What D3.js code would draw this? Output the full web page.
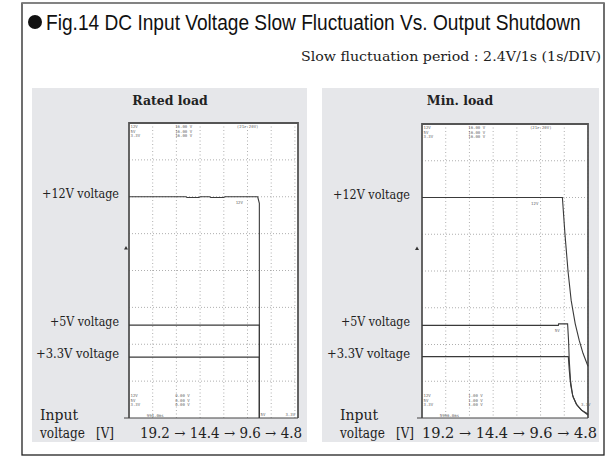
<!DOCTYPE html>
<html><head><meta charset="utf-8">
<script src="https://cdn.jsdelivr.net/npm/d3@7"></script>
<style>
html,body{margin:0;padding:0;background:#fff;}
svg{display:block;}
</style></head>
<body>
<svg id="chart" width="614" height="457"></svg>
<script>
// ---------- data ----------
const titleText = "Fig.14 DC Input Voltage Slow Fluctuation Vs. Output Shutdown";
const subtitleText = "Slow fluctuation period : 2.4V/1s (1s/DIV)";
const panelTitles = ["Rated load", "Min. load"];
const channelLabels = ["+12V voltage", "+5V voltage", "+3.3V voltage"];
const channelNames = ["12V", "5V", "3.3V"];
const inputVoltages = [19.2, 14.4, 9.6, 4.8];
const timeDivs = [0, 1, 2, 3, 4, 5, 6, 7];          // 1 s / DIV
const levelDivs = [0, 1, 2, 3, 4, 5, 6, 7, 8];
const topScaleText = ["16.00 V", "16.00 V", "16.00 V"];
const bottomScaleRated = ["0.00 V", "0.00 V", "0.00 V"];
const bottomScaleMin = ["1.00 V", "1.00 V", "1.00 V"];
const timeReadout = ["994.0ms", "5996.0ms"];
const triggerText = "(21> 20V)";

// traces: [time (s), level (div)]
const ratedV12 = [[0,6.0],[2.4,6.0],[2.45,5.98],[2.95,5.98],[3.0,6.0],[3.4,6.0],[3.45,5.98],[4.0,5.98],[4.05,6.0],[5.43,6.0],[5.50,5.82],[5.50,0]];
const ratedV5  = [[0,2.52],[5.50,2.52],[5.50,0]];
const ratedV33 = [[0,1.65],[5.50,1.65],[5.50,0]];
const minV12 = [[0,6.0],[5.92,6.0],[6.03,4.99],[6.16,3.98],[6.29,3.20],[6.46,2.57],[6.63,2.11],[6.79,1.76],[7.0,1.41]];
const minV5  = [[0,2.52],[5.75,2.52],[5.76,2.56],[6.14,2.56],[6.18,2.11],[6.21,1.57],[6.26,1.03],[6.35,0.62],[6.50,0.38],[6.71,0.22],[7.0,0.11]];
const minV33 = [[0,1.67],[6.17,1.67],[6.21,1.30],[6.27,0.89],[6.37,0.57],[6.54,0.35],[6.75,0.20],[7.0,0.08]];
const channelLevels = [6.0, 2.52, 1.66];

// ---------- layout ----------
const svg = d3.select("#chart");
const serif = "'Century Schoolbook L','DejaVu Serif','Liberation Serif',serif";

// outer frame
svg.append("rect").attr("x",22).attr("y",3).attr("width",582).attr("height",452)
  .attr("fill","#fff").attr("stroke","#222").attr("stroke-width",1.3);
svg.append("line").attr("x1",22).attr("x2",604).attr("y1",3).attr("y2",3)
  .attr("stroke","#8a8a8a").attr("stroke-width",1.5);

// title (condensed by horizontal scaling)
svg.append("circle").attr("cx",35).attr("cy",22).attr("r",7).attr("fill","#111");
const title = svg.append("text").attr("x",0).attr("y",0)
  .attr("font-family","'Liberation Sans Narrow','Liberation Sans',Arial,sans-serif")
  .attr("font-size",22.5).attr("fill","#111")
  .text(titleText);
const tw = title.node().getComputedTextLength();
title.attr("transform",`translate(46,30) scale(${535/tw},1)`);

svg.append("text").attr("x",601).attr("y",61).attr("text-anchor","end")
  .attr("font-family",serif).attr("font-size",12.5).attr("fill","#222")
  .attr("textLength",300).attr("lengthAdjust","spacingAndGlyphs")
  .text(subtitleText);

const panels = [
  {title: panelTitles[0], gx:32, gw:275, cx:170, x0:129, x1:294.9, boxR:298, y0:123, y1:418,
   traces:[ratedV12, ratedV5, ratedV33], bottomScale:bottomScaleRated, readout:timeReadout[0],
   labelRight:119, inputX:40, arrowsX0:140, arrowsW:162, tri:126,
   tags:[{t:"12V", at:[4.5,5.8]}, {t:"5V", at:[5.55,0.05]}, {t:"3.3V", at:[6.6,0.05]}]},
  {title: panelTitles[1], gx:322, gw:277, cx:460, x0:422, x1:588, boxR:588, y0:124, y1:418,
   traces:[minV12, minV5, minV33], bottomScale:bottomScaleMin, readout:timeReadout[1],
   labelRight:410, inputX:340, arrowsX0:422, arrowsW:175, tri:417,
   tags:[{t:"12V", at:[4.6,5.8]}, {t:"5V", at:[5.6,2.35]}, {t:"3.3V", at:[6.7,0.32]}]}
];
const gy = 88, gh = 354;

panels.forEach(p => {
  const g = svg.append("g");
  g.append("rect").attr("x",p.gx).attr("y",gy).attr("width",p.gw).attr("height",gh).attr("fill","#e6e7ea");
  g.append("text").attr("x",p.cx).attr("y",105).attr("text-anchor","middle")
    .attr("font-family",serif).attr("font-weight","bold").attr("font-size",12.5).attr("fill","#222")
    .text(p.title);

  const x = d3.scaleLinear().domain([0,7]).range([p.x0,p.x1]);
  const y = d3.scaleLinear().domain([0,8]).range([p.y1,p.y0]);

  // screen
  g.append("rect").attr("x",p.x0).attr("y",p.y0).attr("width",p.boxR-p.x0).attr("height",p.y1-p.y0).attr("fill","#fff");
  // grid
  g.selectAll(".vg").data(timeDivs.slice(1)).join("line")
    .attr("x1",d=>x(d)).attr("x2",d=>x(d)).attr("y1",p.y0).attr("y2",p.y1)
    .attr("stroke","#9a9a9a").attr("stroke-width",0.8).attr("stroke-dasharray","1,2.5");
  g.selectAll(".hg").data(levelDivs.slice(1,-1)).join("line")
    .attr("x1",p.x0).attr("x2",p.boxR).attr("y1",d=>y(d)).attr("y2",d=>y(d))
    .attr("stroke","#9a9a9a").attr("stroke-width",0.8).attr("stroke-dasharray","1,2");
  // box
  g.append("path").attr("d",`M${p.x0},${p.y1}V${p.y0}H${p.boxR}V${p.y1}`)
    .attr("fill","none").attr("stroke","#555").attr("stroke-width",1.8);
  g.append("line").attr("x1",p.x0-5).attr("x2",p.boxR).attr("y1",p.y1).attr("y2",p.y1)
    .attr("stroke","#444").attr("stroke-width",1.2);

  // traces
  const line = d3.line().x(d=>x(d[0])).y(d=>y(d[1]));
  p.traces.forEach(tr => {
    g.append("path").attr("d",line(tr)).attr("fill","none")
      .attr("stroke","#3a3a3a").attr("stroke-width",1.1);
  });

  // trigger marker
  g.append("path").attr("d",`M${p.tri-2},${y(4.6)+1}L${p.tri},${y(4.6)-2.5}L${p.tri+2},${y(4.6)+1}Z`).attr("fill","#333");

  // readouts
  const mono = "'DejaVu Sans Mono',monospace";
  const small = g.append("g").attr("font-family",mono).attr("font-size",4).attr("fill","#666");
  channelNames.forEach((n,i) => {
    small.append("text").attr("x",p.x0+1.5).attr("y",p.y0+5+i*4.6).text(n);
    small.append("text").attr("x",x(1.95)).attr("y",p.y0+5+i*4.6).text(topScaleText[i]);
    small.append("text").attr("x",p.x0+1.5).attr("y",y(1)+16+i*4.6).text(n);
    small.append("text").attr("x",x(1.95)).attr("y",y(1)+16+i*4.6).text(p.bottomScale[i]);
  });
  small.append("text").attr("x",x(4.55)).attr("y",p.y0+5).text(triggerText);
  small.append("text").attr("x",x(0.75)).attr("y",p.y1-1.5).text(p.readout);
  p.tags.forEach(tg => {
    small.append("text").attr("x",x(tg.at[0])).attr("y",y(tg.at[1])).text(tg.t);
  });

  // channel labels
  channelLabels.forEach((lab,i) => {
    g.append("text").attr("x",p.labelRight).attr("y",y(channelLevels[i])+1)
      .attr("text-anchor","end").attr("font-family",serif).attr("font-size",12.5).attr("fill","#222")
      .attr("textLength", i===2 ? 83 : (i===0 ? 77 : 69)).attr("lengthAdjust","spacingAndGlyphs")
      .text(lab);
  });

  // input voltage axis text
  const tx = g.append("g").attr("font-family",serif).attr("fill","#222").attr("font-size",14);
  tx.append("text").attr("x",p.inputX).attr("y",420).text("Input");
  tx.append("text").attr("x",p.inputX).attr("y",438).attr("textLength",45).attr("lengthAdjust","spacingAndGlyphs").text("voltage");
  tx.append("text").attr("x",p.inputX+56).attr("y",438).attr("textLength",18).attr("lengthAdjust","spacingAndGlyphs").text("[V]");
  tx.append("text").attr("x",p.arrowsX0).attr("y",438).attr("textLength",p.arrowsW).attr("lengthAdjust","spacingAndGlyphs")
    .text(inputVoltages.map(v=>v.toFixed(1)).join(" → "));
});
</script>
</body></html>
